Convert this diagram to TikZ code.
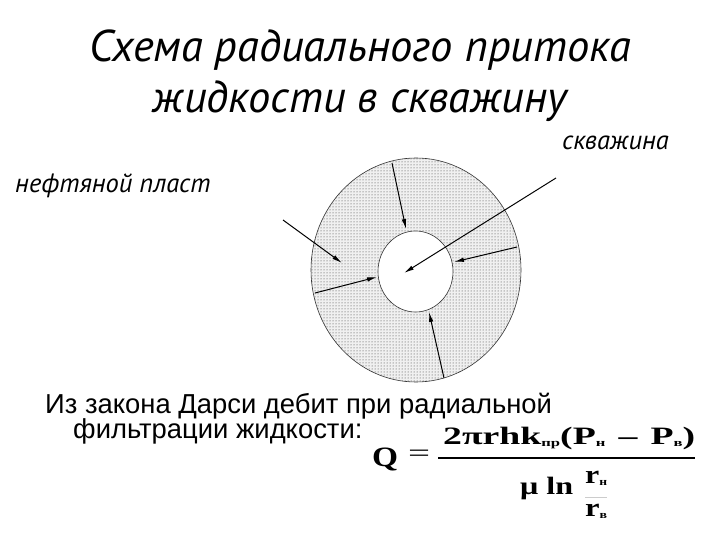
\documentclass[tikz,border=0pt]{standalone}
\usepackage{fontspec}
\usepackage{graphicx}
\setmainfont{Liberation Sans}
\newfontfamily\itf{PT Sans}
\newfontfamily\fml{Liberation Serif}
\usetikzlibrary{arrows.meta,patterns}
\newcommand\sbx[1]{\raisebox{-2.5pt}{\fontsize{11}{11}\selectfont #1}}
\newcommand\fm[3]{\resizebox{#1}{\height}{\fml\bfseries\fontsize{#2}{#2}\selectfont #3}}
\tikzset{
  flow/.style={line width=1pt,-{Latex[length=10pt,width=4.5pt]}},
  ring/.style={line width=0.6pt,draw=black!80},
  ttl/.style={font=\itf\fontsize{44.5}{44.5}\selectfont\itshape,anchor=base,inner sep=0},
  lbl/.style={font=\itf\fontsize{26.5}{26.5}\selectfont\itshape,anchor=base west,inner sep=0},
  body/.style={font=\fontsize{27.4}{27.4}\selectfont,anchor=base west,inner sep=0},
  fpart/.style={anchor=base west,inner sep=0}
}
\begin{document}
\begin{tikzpicture}[x=1pt,y=-1pt]
\useasboundingbox (0,0) rectangle (720,540);
\fill[white] (0,0) rectangle (720,540);
% title
\node[ttl] (t1) at (360,62) {Схема радиального притока};
\node[ttl] (t2) at (360,113) {жидкости в скважину};
% labels
\node[lbl] (well) at (562,150) {скважина};
\node[lbl] (layer) at (15,193) {нефтяной пласт};
% ring
\fill[gray!12] (416,270) ellipse [x radius=105, y radius=112];
\path[pattern=dots,pattern color=black!80] (416,270) ellipse [x radius=105, y radius=112];
\draw[ring] (416,270) ellipse [x radius=105, y radius=112];
\filldraw[ring,fill=white] (415.5,271.5) ellipse [x radius=37.5, y radius=40.5];
% arrows
\coordinate (s1) at (392,163); \coordinate (e1) at (406,229);
\coordinate (s2) at (556,178); \coordinate (e2) at (404,273);
\coordinate (s3) at (517,247); \coordinate (e3) at (454,262);
\coordinate (s4) at (444,378); \coordinate (e4) at (429,312);
\coordinate (s5) at (315,293); \coordinate (e5) at (377,277);
\coordinate (s6) at (283,220); \coordinate (e6) at (342,263);
\foreach \i in {1,...,6} \draw[flow] (s\i) -- (e\i);
% text
\node[body] (b1) at (45,413) {Из закона Дарси дебит при радиальной};
\node[body] (b2) at (73,438) {фильтрации жидкости:};
% formula
\node[fpart] (q) at (372,466) {\fm{26pt}{28}{Q}};
\node[anchor=center,inner sep=0] (eq) at (419,456) {\resizebox{22pt}{\height}{\fml\fontsize{25}{25}\selectfont =}};
\node[fpart] (num) at (443,444) {\fm{252pt}{25}{2πrhk\sbx{пр}(P\sbx{н}\hspace{0.35em}–\hspace{0.35em}P\sbx{в})}};
\coordinate (bl) at (438,458); \coordinate (br) at (695,458);
\draw[line width=1.1pt] (bl) -- (br);
\node[fpart] (mu) at (520,494) {\fm{53pt}{25}{μ ln}};
\node[fpart] (rn) at (585,483) {\fm{22pt}{26}{r\sbx{н}}};
\node[fpart] (rv) at (585,516) {\fm{22pt}{26}{r\sbx{в}}};
\coordinate (sl) at (585,497); \coordinate (sr) at (607,497);
\draw[line width=0.5pt,gray!40] (sl) -- (sr);
\end{tikzpicture}
\end{document}
